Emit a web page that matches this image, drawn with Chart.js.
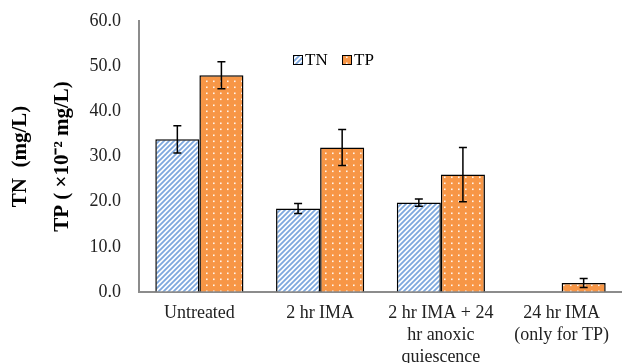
<!DOCTYPE html>
<html>
<head>
  <title>TN / TP chart</title>
  <style>
    body {
      margin: 0;
      background: #fff;
    }
    #wrap {
      width: 622px;
      height: 363px;
      position: relative;
    }
  </style>
</head>
<body>
  <div id="wrap">
    <canvas id="chartContainer"></canvas>
  </div>

  <script src="https://cdn.jsdelivr.net/npm/chart.js@4/dist/chart.umd.min.js"></script>

  <script>
    // values
    const categories = ['Untreated', '2 hr IMA', ['2 hr IMA + 24', 'hr anoxic', 'quiescence'], ['24 hr IMA', '(only for TP)']];
    const tnValues = [33.8, 18.5, 19.8, null];
    const tnErrors = [3.0, 1.1, 0.8, null];
    const tpValues = [48.0, 32.0, 26.0, 2.0];
    const tpErrors = [3.0, 4.0, 6.0, 1.0];
    const yTitle = ['TN\u2002(mg/L)', 'TP ( \u00d710\u207b\u00b2 mg/L)'];

    const serif = '"Liberation Serif", "Times New Roman", serif';

    function stripePattern() {
      const c = document.createElement('canvas');
      c.width = 5; c.height = 5;
      const g = c.getContext('2d');
      g.fillStyle = '#ffffff';
      g.fillRect(0, 0, 5, 5);
      g.strokeStyle = '#7ea8de';
      g.lineWidth = 1.8;
      g.beginPath();
      g.moveTo(-1, 6); g.lineTo(6, -1);
      g.moveTo(-1, 1); g.lineTo(1, -1);
      g.moveTo(4, 6); g.lineTo(6, 4);
      g.stroke();
      return g.createPattern(c, 'repeat');
    }

    function dotPattern() {
      const c = document.createElement('canvas');
      c.width = 7; c.height = 6;
      const g = c.getContext('2d');
      g.fillStyle = '#f79646';
      g.fillRect(0, 0, 7, 6);
      g.fillStyle = 'rgba(255,255,255,0.9)';
      g.fillRect(3, 2.5, 1.6, 1.6);
      return g.createPattern(c, 'repeat');
    }

    const tnFill = stripePattern();
    const tpFill = dotPattern();

    // whiskers drawn from the y scale
    const errorBars = {
      id: 'errorBars',
      afterDatasetsDraw(chart) {
        const ctx = chart.ctx;
        const y = chart.scales.y;
        ctx.save();
        ctx.strokeStyle = '#000';
        ctx.lineWidth = 1.5;
        chart.data.datasets.forEach((ds, i) => {
          const meta = chart.getDatasetMeta(i);
          meta.data.forEach((bar, j) => {
            const v = ds.data[j], e = ds.errors[j];
            if (v == null || e == null) return;
            const top = y.getPixelForValue(v + e);
            const bot = y.getPixelForValue(v - e);
            ctx.beginPath();
            ctx.moveTo(bar.x, top); ctx.lineTo(bar.x, bot);
            ctx.moveTo(bar.x - 4, top); ctx.lineTo(bar.x + 4, top);
            ctx.moveTo(bar.x - 4, bot); ctx.lineTo(bar.x + 4, bot);
            ctx.stroke();
          });
        });
        ctx.restore();
      }
    };

    // small legend inside the plot, like the original
    const innerLegend = {
      id: 'innerLegend',
      afterDraw(chart) {
        const ctx = chart.ctx;
        let x = 293;
        const yMid = 60;
        ctx.save();
        ctx.font = '17px ' + serif;
        ctx.textBaseline = 'middle';
        chart.data.datasets.forEach(ds => {
          ctx.fillStyle = ds.backgroundColor;
          ctx.fillRect(x, yMid - 5, 10, 10);
          ctx.strokeStyle = '#000';
          ctx.lineWidth = 1;
          ctx.strokeRect(x + 0.5, yMid - 4.5, 9, 9);
          ctx.fillStyle = '#000';
          ctx.fillText(ds.label, x + 12, yMid + 1);
          x += 49;
        });
        ctx.restore();
      }
    };

    const ctx = document.getElementById('chartContainer').getContext('2d');
    window.myChart = new Chart(ctx, {
      type: 'bar',
      data: {
        labels: categories,
        datasets: [{
          label: 'TN',
          data: tnValues,
          errors: tnErrors,
          backgroundColor: tnFill,
          borderColor: '#000',
          borderWidth: 1.5
        }, {
          label: 'TP',
          data: tpValues,
          errors: tpErrors,
          backgroundColor: tpFill,
          borderColor: '#000',
          borderWidth: 1.5
        }]
      },
      options: {
        responsive: true,
        maintainAspectRatio: false,
        animation: false,
        datasets: {
          bar: { categoryPercentage: 0.73, barPercentage: 1.0 }
        },
        layout: { padding: { top: 21, right: 0, bottom: 0, left: 0 } },
        plugins: {
          legend: { display: false },
          tooltip: { enabled: false }
        },
        scales: {
          x: {
            grid: { display: false, drawTicks: false },
            border: { display: true, color: '#8c8c8c', width: 2 },
            ticks: {
              color: '#222',
              padding: 10,
              maxRotation: 0,
              autoSkip: false,
              font: { family: serif, size: 18, lineHeight: 1.22 }
            },
            afterFit(scale) { scale.height = 71; }
          },
          y: {
            min: 0,
            max: 60,
            // invisible tick marks keep the labels away from the axis
            grid: { display: true, drawOnChartArea: false, drawTicks: true, tickLength: 15, color: 'rgba(0,0,0,0)' },
            border: { display: true, color: '#8c8c8c', width: 2 },
            ticks: {
              stepSize: 10,
              color: '#222',
              padding: 3,
              font: { family: serif, size: 18 },
              callback: v => v.toFixed(1)
            },
            title: {
              display: true,
              text: yTitle,
              color: '#000',
              padding: { top: 0, bottom: 0 },
              font: { family: serif, size: 21, weight: 'bold', lineHeight: 2 }
            },
            afterFit(scale) { scale.width = 139; }
          }
        }
      },
      plugins: [errorBars, innerLegend]
    });
  </script>
</body>
</html>
